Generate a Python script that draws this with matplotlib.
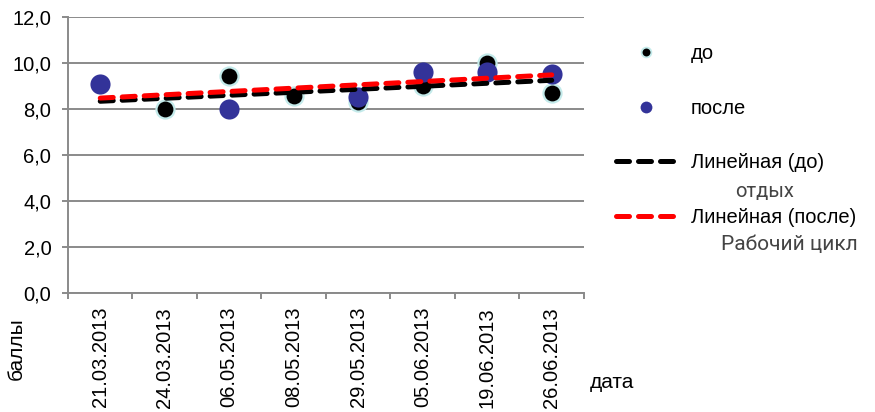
import numpy as np
import matplotlib.pyplot as plt
from matplotlib.lines import Line2D

# данные
dates = ["21.03.2013", "24.03.2013", "06.05.2013", "08.05.2013",
         "29.05.2013", "05.06.2013", "19.06.2013", "26.06.2013"]
do_vals = [np.nan, 8.0, 9.45, 8.55, 8.3, 9.0, 10.0, 8.7]
posle_vals = [9.1, np.nan, 8.0, np.nan, 8.5, 9.6, 9.6, 9.5]
yticks = [0, 2, 4, 6, 8, 10, 12]
ytick_labels = ["0,0", "2,0", "4,0", "6,0", "8,0", "10,0", "12,0"]

plt.rcParams['font.family'] = ['Liberation Sans', 'DejaVu Sans']

fig = plt.figure(figsize=(8.75, 4.12), dpi=100)
ax = fig.add_axes([0.0777, 0.2888, 0.5897, 0.67])

x = np.arange(1, len(dates) + 1)
do_arr = np.array(do_vals)
posle_arr = np.array(posle_vals)

# линии тренда (как в Excel: по имеющимся точкам, от первой до последней категории)
def trend(y):
    m = ~np.isnan(y)
    k, b = np.polyfit(x[m], y[m], 1)
    return k * x + b

grid_c = '#8a8a8a'
ax.set_axisbelow(True)
ax.grid(axis='y', color=grid_c, lw=1.4)

ax.plot(x, do_arr, 'o', color='black', ms=13, mec='#c3eaea', mew=1.6, zorder=3)
ax.plot(x, posle_arr, 'o', color='#333399', ms=14.5, mec='#333399', mew=0, zorder=4)
ax.plot(x, trend(do_arr), color='black', lw=3.6, dashes=(2.6, 1.8),
        dash_capstyle='round', zorder=5)
ax.plot(x, trend(posle_arr), color='red', lw=3.6, dashes=(2.6, 1.8),
        dash_capstyle='round', zorder=6)

ax.set_xlim(0.5, len(dates) + 0.5)
ax.set_ylim(0, 12)
ax.set_yticks(yticks)
ax.set_yticklabels(ytick_labels, fontsize=14.5)
ax.set_xticks(x)
ax.set_xticklabels(dates, rotation=90, fontsize=14.5, va='top')
ax.set_xticks(np.arange(0.5, len(dates) + 1), minor=True)
ax.tick_params(axis='x', which='major', length=0, pad=10)
ax.tick_params(axis='x', which='minor', length=4, width=1.4, color=grid_c, direction='out')
ax.tick_params(axis='y', length=4, width=1.4, color=grid_c, pad=8)

for s in ['top', 'right']:
    ax.spines[s].set_visible(False)
for s in ['left', 'bottom']:
    ax.spines[s].set_color(grid_c)
    ax.spines[s].set_linewidth(1.4)

# легенда
handles = [
    Line2D([], [], ls='none', marker='o', color='black', ms=7, mec='#c3eaea', mew=1.3),
    Line2D([], [], ls='none', marker='o', color='#333399', ms=8.5, mew=0),
    Line2D([], [], color='black', lw=3.6, dashes=(2.6, 1.8), dash_capstyle='round'),
    Line2D([], [], color='red', lw=3.6, dashes=(2.6, 1.8), dash_capstyle='round'),
]
labels = ["до", "после", "Линейная (до)", "Линейная (после)"]
fig.legend(handles, labels, loc='upper left', bbox_to_anchor=(0.695, 0.912),
           frameon=False, fontsize=14.5, handlelength=3.0, handletextpad=0.7,
           labelspacing=1.76, borderaxespad=0)

fig.text(735 / 875, 1 - 191 / 412, "отдых", fontsize=14.5, color='#444444',
         va='center', ha='left', family=['Roboto', 'DejaVu Sans'])
fig.text(721 / 875, 1 - 245 / 412, "Рабочий цикл", fontsize=15, color='#444444',
         va='center', ha='left', family=['Roboto', 'DejaVu Sans'])

fig.text(16 / 875, 1 - 349 / 412, "баллы", fontsize=15, rotation=90,
         va='center', ha='center')
fig.text(590 / 875, 1 - 383 / 412, "дата", fontsize=15, va='center', ha='left')

fig.savefig('out.png', dpi=100)
